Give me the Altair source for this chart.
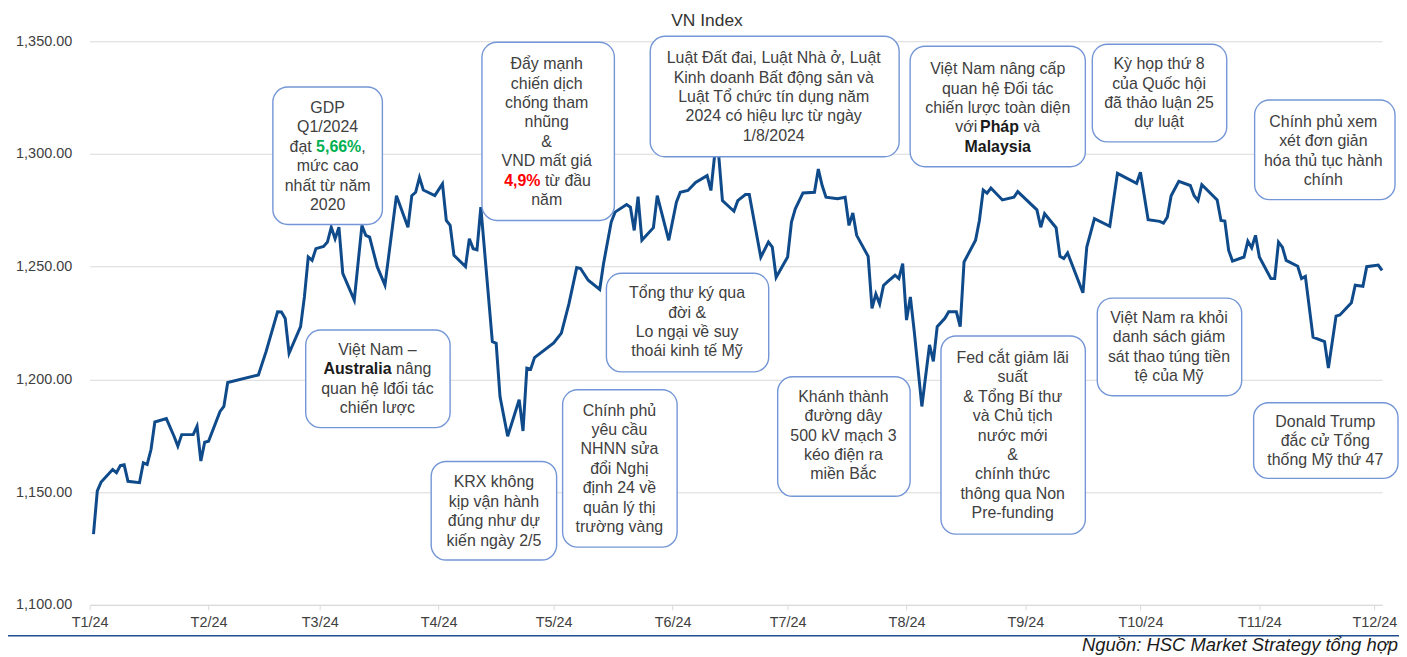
import unicodedata
import altair as alt
import pandas as pd

# ---------------- data ----------------
dates = [
    "2024-01-02", "2024-01-03", "2024-01-04", "2024-01-07", "2024-01-08", "2024-01-09", "2024-01-10",
    "2024-01-11", "2024-01-14", "2024-01-15", "2024-01-16", "2024-01-17", "2024-01-18", "2024-01-21",
    "2024-01-23", "2024-01-24", "2024-01-25", "2024-01-28", "2024-01-29", "2024-01-30", "2024-01-31",
    "2024-02-01", "2024-02-04", "2024-02-05", "2024-02-06", "2024-02-14", "2024-02-16", "2024-02-19",
    "2024-02-20", "2024-02-21", "2024-02-22", "2024-02-25", "2024-02-26", "2024-02-27", "2024-02-28",
    "2024-02-29", "2024-03-02", "2024-03-03", "2024-03-04", "2024-03-05", "2024-03-06", "2024-03-07",
    "2024-03-10", "2024-03-12", "2024-03-13", "2024-03-14", "2024-03-16", "2024-03-18", "2024-03-20",
    "2024-03-21", "2024-03-24", "2024-03-25", "2024-03-26", "2024-03-27", "2024-03-28", "2024-03-31",
    "2024-04-02", "2024-04-03", "2024-04-04", "2024-04-05", "2024-04-08", "2024-04-09", "2024-04-10",
    "2024-04-11", "2024-04-12", "2024-04-15", "2024-04-16", "2024-04-17", "2024-04-19", "2024-04-22",
    "2024-04-23", "2024-04-24", "2024-04-25", "2024-04-26", "2024-05-01", "2024-05-03", "2024-05-05",
    "2024-05-07", "2024-05-08", "2024-05-10", "2024-05-13", "2024-05-14", "2024-05-16", "2024-05-17",
    "2024-05-20", "2024-05-21", "2024-05-22", "2024-05-23", "2024-05-24", "2024-05-27", "2024-05-28",
    "2024-05-31", "2024-06-02", "2024-06-03", "2024-06-05", "2024-06-07", "2024-06-10", "2024-06-11",
    "2024-06-12", "2024-06-13", "2024-06-14", "2024-06-17", "2024-06-18", "2024-06-20", "2024-06-21",
    "2024-06-24", "2024-06-26", "2024-06-27", "2024-06-28", "2024-07-01", "2024-07-02", "2024-07-03",
    "2024-07-05", "2024-07-08", "2024-07-09", "2024-07-10", "2024-07-11", "2024-07-14", "2024-07-16",
    "2024-07-17", "2024-07-18", "2024-07-19", "2024-07-22", "2024-07-23", "2024-07-24", "2024-07-25",
    "2024-07-26", "2024-07-27", "2024-07-29", "2024-07-30", "2024-07-31", "2024-08-01", "2024-08-02",
    "2024-08-03", "2024-08-05", "2024-08-07", "2024-08-08", "2024-08-09", "2024-08-11", "2024-08-12",
    "2024-08-14", "2024-08-15", "2024-08-16", "2024-08-19", "2024-08-20", "2024-08-21", "2024-08-22",
    "2024-08-23", "2024-08-26", "2024-08-29", "2024-08-30", "2024-09-04", "2024-09-05", "2024-09-06",
    "2024-09-09", "2024-09-10", "2024-09-11", "2024-09-12", "2024-09-16", "2024-09-17", "2024-09-19",
    "2024-09-23", "2024-09-25", "2024-09-30", "2024-10-01", "2024-10-03", "2024-10-06", "2024-10-07",
    "2024-10-08", "2024-10-09", "2024-10-11", "2024-10-14", "2024-10-15", "2024-10-16", "2024-10-17",
    "2024-10-21", "2024-10-22", "2024-10-23", "2024-10-24", "2024-10-25", "2024-10-28", "2024-10-29",
    "2024-10-30", "2024-10-31", "2024-11-01", "2024-11-04", "2024-11-05", "2024-11-06", "2024-11-07",
    "2024-11-08", "2024-11-11", "2024-11-12", "2024-11-13", "2024-11-15", "2024-11-18", "2024-11-19",
    "2024-11-21", "2024-11-22", "2024-11-25", "2024-11-26", "2024-11-28", "2024-11-29", "2024-12-02",
    "2024-12-03",
]

values = [
    1131.4, 1150.5, 1154.5, 1160.0, 1158.6, 1161.8, 1162.1,
    1154.8, 1154.2, 1163.0, 1162.3, 1168.9, 1181.1, 1182.6,
    1174.8, 1170.4, 1175.5, 1175.5, 1179.2, 1163.8, 1172.1,
    1172.6, 1185.8, 1188.0, 1198.6, 1202.0, 1212.3, 1230.0,
    1229.9, 1227.0, 1211.6, 1223.4, 1236.6, 1254.3, 1252.8,
    1258.0, 1259.0, 1260.9, 1267.5, 1262.4, 1267.5, 1247.0,
    1235.2, 1268.3, 1263.9, 1263.1, 1249.9, 1241.8, 1268.3,
    1281.5, 1267.5, 1281.5, 1283.0, 1289.6, 1284.0, 1281.5,
    1286.7, 1270.5, 1268.3, 1255.0, 1250.0, 1262.4, 1258.0,
    1257.5, 1276.4, 1216.8, 1216.0, 1192.4, 1174.8, 1191.0,
    1177.1, 1205.0, 1204.5, 1209.7, 1216.2, 1220.5, 1233.7,
    1249.6, 1249.2, 1244.0, 1239.9, 1251.4, 1269.8, 1274.2,
    1277.6, 1276.4, 1266.1, 1281.1, 1261.7, 1267.3, 1281.5,
    1261.7, 1278.6, 1283.0, 1283.8, 1287.4, 1290.4, 1283.8,
    1300.0, 1300.0, 1279.3, 1274.6, 1279.3, 1282.0, 1282.0,
    1254.2, 1260.9, 1258.7, 1245.3, 1254.3, 1269.8, 1275.7,
    1282.7, 1283.0, 1293.3, 1286.0, 1280.8, 1280.1, 1280.8,
    1268.3, 1273.8, 1263.9, 1254.6, 1231.5, 1237.9, 1233.5,
    1241.7, 1243.3, 1246.2, 1244.7, 1251.4, 1226.3, 1236.6,
    1221.5, 1188.0, 1215.3, 1208.0, 1223.4, 1227.1, 1230.0,
    1230.0, 1223.4, 1252.1, 1261.7, 1270.5, 1284.0, 1282.6,
    1284.9, 1279.6, 1280.8, 1283.3, 1275.2, 1267.5, 1273.5,
    1267.3, 1254.6, 1253.6, 1256.1, 1238.4, 1258.7, 1271.3,
    1267.9, 1291.4, 1287.0, 1291.9, 1270.8, 1270.1, 1269.3,
    1272.0, 1281.5, 1287.9, 1286.0, 1281.5, 1279.3, 1286.4,
    1279.6, 1270.5, 1270.2, 1257.2, 1252.5, 1254.3, 1261.3,
    1258.4, 1263.9, 1254.3, 1244.7, 1244.7, 1260.9, 1258.7,
    1252.8, 1250.2, 1244.7, 1245.7, 1218.7, 1216.8, 1205.0,
    1228.1, 1228.6, 1234.0, 1241.8, 1241.3, 1250.0, 1250.7,
    1248.4,
]

y_ticks = [1100, 1150, 1200, 1250, 1300, 1350]
month_numbers = list(range(1, 13))

chart_title = "VN Index"
source_note = "Nguồn: HSC Market Strategy tổng hợp"

# Annotation boxes: (left, right, top, bottom) on the page, text centre x, first line y, lines.
# A line is a plain string, or a list of (segment, style) for mixed formatting.
annotations = [
    dict(box=(274, 384, 86, 224), cx=329, y0=107, lines=[
        "GDP", "Q1/2024", [("đạt ", "r"), ("5,66%", "g"), (",", "r")], "mức cao", "nhất từ năm", "2020"]),
    dict(box=(484, 617, 41, 220), cx=549, y0=63, lines=[
        "Đẩy mạnh", "chiến dịch", "chống tham", "nhũng", "&", "VND mất giá",
        [("4,9%", "red"), (" từ đầu", "r")], "năm"]),
    dict(box=(653, 903, 35, 156), cx=777, y0=57, lines=[
        "Luật Đất đai, Luật Nhà ở, Luật", "Kinh doanh Bất động sản và", "Luật Tổ chức tín dụng năm",
        "2024 có hiệu lực từ ngày", "1/8/2024"]),
    dict(box=(914, 1090, 45, 166), cx=1002, y0=68, lines=[
        "Việt Nam nâng cấp", "quan hệ Đối tác", "chiến lược toàn diện",
        [("với ", "r"), ("Pháp", "b"), (" và", "r")], [("Malaysia", "b")]]),
    dict(box=(1097, 1232, 43, 141), cx=1164, y0=63, lines=[
        "Kỳ họp thứ 8", "của Quốc hội", "đã thảo luận 25", "dự luật"]),
    dict(box=(1260, 1401, 99, 199), cx=1329, y0=121, lines=[
        "Chính phủ xem", "xét đơn giản", "hóa thủ tục hành", "chính"]),
    dict(box=(307, 452, 330, 428), cx=379, y0=350, lines=[
        "Việt Nam –", [("Australia", "b"), (" nâng", "r")], "quan hệ lđối tác", "chiến lược"]),
    dict(box=(433, 559, 462, 561), cx=496, y0=483, lines=[
        "KRX không", "kịp vận hành", "đúng như dự", "kiến ngày 2/5"]),
    dict(box=(565, 680, 390, 548), cx=622, y0=411, lines=[
        "Chính phủ", "yêu cầu", "NHNN sửa", "đổi Nghị", "định 24 về", "quản lý thị", "trường vàng"]),
    dict(box=(609, 772, 273, 372), cx=690, y0=293, lines=[
        "Tổng thư ký qua", "đời &", "Lo ngại về suy", "thoái kinh tế Mỹ"]),
    dict(box=(781, 914, 377, 497), cx=847, y0=397, lines=[
        "Khánh thành", "đường dây", "500 kV mạch 3", "kéo điện ra", "miền Bắc"]),
    dict(box=(945, 1090, 336, 535), cx=1017, y0=358, lines=[
        "Fed cắt giảm lãi", "suất", "& Tổng Bí thư", "và Chủ tịch", "nước mới", "&",
        "chính thức", "thông qua Non", "Pre-funding"]),
    dict(box=(1102, 1247, 298, 396), cx=1174, y0=318, lines=[
        "Việt Nam ra khỏi", "danh sách giám", "sát thao túng tiền", "tệ của Mỹ"]),
    dict(box=(1259, 1404, 403, 479), cx=1331, y0=422, lines=[
        "Donald Trump", "đắc cử Tổng", "thống Mỹ thứ 47"]),
]

# ---------------- layout / style ----------------
FONT = "Liberation Sans"
OX, OY = 90, 40          # plot origin on the page
W, H = 1298, 566         # plot size
PAD = {"left": OX - 8, "top": OY - 8, "right": 17, "bottom": 51}
LINE_H = 19.5
FS = 16
TEXT_COL = "#404040"
STYLE_COL = {"r": TEXT_COL, "b": "#1a1a1a", "g": "#00b050", "red": "#ff0000"}

W_REG = {' ': 278, ',': 278, '%': 889, 'i': 222, 'l': 222, 't': 278, 'r': 333, 's': 500,
         'v': 500, 'y': 500, 'c': 500, 'k': 500, 'A': 667, 'P': 667, 'M': 833, 'N': 722, 'm': 833}
W_BOLD = {' ': 278, ',': 278, '%': 889, 'i': 278, 'l': 278, 't': 333, 'r': 389, 's': 556,
          'h': 611, 'p': 611, 'u': 611, 'A': 722, 'P': 667, 'M': 833, 'y': 556}


def text_width(s, bold):
    table = W_BOLD if bold else W_REG
    total = 0
    for ch in s:
        base = unicodedata.normalize("NFD", ch)[0]
        total += table.get(base, 556)
    return total * FS / 1000.0


rect_rows, center_rows, left_rows, bold_rows = [], [], [], []
for a in annotations:
    x1, x2, y1, y2 = a["box"]
    rect_rows.append({"x1": x1 - OX, "x2": x2 - OX, "y1": y1 - OY, "y2": y2 - OY})
    for i, line in enumerate(a["lines"]):
        y = a["y0"] + i * LINE_H - OY
        if isinstance(line, str):
            center_rows.append({"x": a["cx"] - OX, "y": y, "t": line})
            continue
        total = sum(text_width(seg, st != "r") for seg, st in line)
        start = a["cx"] - total / 2.0
        for seg, st in line:
            bold = st != "r"
            lead = len(seg) - len(seg.lstrip())
            xr = start + text_width(seg[:lead], bold)
            row = {"x": xr - OX, "y": y, "t": seg.strip(), "c": STYLE_COL[st]}
            (bold_rows if bold else left_rows).append(row)
            start += text_width(seg, bold)

df = pd.DataFrame({"date": dates, "value": values})
one = pd.DataFrame({"k": [0]})

x_axis = alt.Axis(
    values=[alt.DateTime(year=2024, month=m, date=1, utc=True) for m in month_numbers],
    labelExpr="'T' + (utcmonth(datum.value) + 1) + '/24'",
    title=None, grid=False, labelFont=FONT, labelFontSize=14.5, labelColor=TEXT_COL,
    labelFlush=False, labelAlign="center",
    domainColor="#d9d9d9", tickColor="#d9d9d9", tickSize=5, labelPadding=6,
)
y_axis = alt.Axis(
    values=y_ticks, format=",.2f", title=None, grid=True, gridColor="#d9d9d9",
    domain=False, ticks=False, tickSize=0, labelPadding=18,
    labelFont=FONT, labelFontSize=14.5, labelColor=TEXT_COL,
)

line = alt.Chart(df).mark_line(color="#0f4a8a", strokeWidth=3).encode(
    x=alt.X("date:T", axis=x_axis,
            scale=alt.Scale(type="utc", nice=False,
                            domain=[alt.DateTime(year=2024, month=1, date=1, utc=True),
                                    alt.DateTime(year=2024, month=12, date=3, utc=True)])),
    y=alt.Y("value:Q", axis=y_axis, scale=alt.Scale(domain=[1100, 1350], nice=False, zero=False)),
)

boxes = alt.Chart(pd.DataFrame(rect_rows)).mark_rect(
    fill="white", stroke="#7496d6", strokeWidth=1.4, cornerRadius=15
).encode(
    x=alt.X("x1:Q", scale=None, axis=None), x2="x2:Q",
    y=alt.Y("y1:Q", scale=None, axis=None), y2="y2:Q",
)

txt_center = alt.Chart(pd.DataFrame(center_rows)).mark_text(
    font=FONT, fontSize=FS, color=TEXT_COL, align="center", baseline="middle"
).encode(x=alt.X("x:Q", scale=None, axis=None), y=alt.Y("y:Q", scale=None, axis=None), text="t:N")

txt_left = alt.Chart(pd.DataFrame(left_rows)).mark_text(
    font=FONT, fontSize=FS, align="left", baseline="middle"
).encode(x=alt.X("x:Q", scale=None, axis=None), y=alt.Y("y:Q", scale=None, axis=None), text="t:N",
         color=alt.Color("c:N", scale=None, legend=None))

txt_bold = alt.Chart(pd.DataFrame(bold_rows)).mark_text(
    font=FONT, fontSize=FS, fontWeight="bold", align="left", baseline="middle"
).encode(x=alt.X("x:Q", scale=None, axis=None), y=alt.Y("y:Q", scale=None, axis=None), text="t:N",
         color=alt.Color("c:N", scale=None, legend=None))

title = alt.Chart(one).mark_text(
    text=chart_title, font=FONT, fontSize=17.5, color="#333333", align="center", baseline="middle"
).encode(x=alt.value(710 - OX), y=alt.value(20 - OY))

source = alt.Chart(one).mark_text(
    text=source_note, font=FONT, fontSize=18.5, fontStyle="italic", color="#1a1a1a",
    align="right", baseline="alphabetic"
).encode(x=alt.value(1404 - OX), y=alt.value(652 - OY))

footer = alt.Chart(one).mark_rule(color="#1f4e8c", strokeWidth=1.5).encode(
    x=alt.value(7 - OX), x2=alt.value(W + PAD["right"]), y=alt.value(637 - OY)
)

chart = alt.layer(line, boxes, txt_center, txt_left, txt_bold, title, source, footer).properties(
    width=W, height=H, padding=PAD, autosize=alt.AutoSizeParams(type="none")
).configure_view(strokeWidth=0)

chart.save("out.html", embed_options={"renderer": "svg", "actions": False})
